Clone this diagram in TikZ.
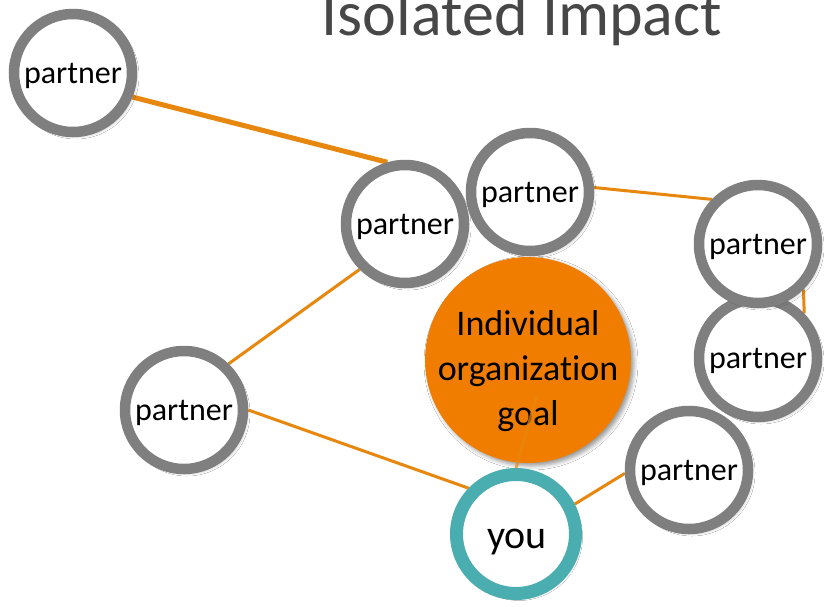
\documentclass[tikz,border=0pt]{standalone}
\usepackage{fontspec}
\setmainfont{Carlito}[Ligatures={NoCommon,NoRequired,NoContextual}]
\usetikzlibrary{shadows.blur}
\definecolor{ringgray}{HTML}{7F7F7F}
\definecolor{goalorange}{HTML}{F07D00}
\definecolor{linkorange}{HTML}{E8870E}
\definecolor{youteal}{HTML}{4AADAF}
\definecolor{titlegray}{HTML}{474747}
\pgfdeclarelayer{bg}
\pgfsetlayers{bg,main}
\begin{document}
\begin{tikzpicture}[x=1pt,y=-1pt,
  softshadow/.style={blur shadow={shadow xshift=3pt,shadow yshift=-3pt,shadow blur radius=4pt,shadow opacity=40}},
  partner/.style={circle,draw=ringgray,line width=10.5pt,fill=white,minimum size=118pt,inner sep=0pt,
    text depth=0pt,font=\fontsize{32}{36}\selectfont,softshadow},
  youbox/.style={circle,draw=youteal,line width=13pt,fill=white,minimum size=119pt,inner sep=0pt,softshadow},
  youtext/.style={font=\fontsize{40}{44}\selectfont,inner sep=0pt},
  goalbox/.style={circle,fill=goalorange,minimum size=206pt,inner sep=0pt,softshadow},
  goaltext/.style={align=center,font=\fontsize{36}{45}\selectfont,inner sep=0pt},
  link/.style={draw=linkorange,line width=3pt},
  thicklink/.style={draw=linkorange,line width=5pt}]
\useasboundingbox (0,0) rectangle (824,606);

\node[anchor=base,text=titlegray,font=\fontsize{64}{70}\selectfont,inner sep=0pt] (title) at (522,35) {Isolated Impact};

\node[partner] (p1) at (73,73) {partner};
\node[partner] (p2) at (405,224) {partner};
\node[partner] (p3) at (530,192) {partner};
\node[partner] (p7) at (184,410) {partner};
\node[goalbox] (goal) at (528,360) {};
\node[goaltext] (goallabel) at (528,371) {Individual\\organization\\goal};
\node[partner] (p5) at (758,358) {partner};
\node[partner] (p4) at (758,244) {partner};
\node[partner] (p6) at (689,470) {partner};
\node[youbox] (you) at (516,534) {};
\node[youtext] (youlabel) at (517,542) {you};

\begin{pgfonlayer}{bg}
\fill[white] (0,0) rectangle (824,606);
\draw[thicklink] (p1.-22) -- (p2.106);
\draw[link] (p3.4) -- (p4.136);
\draw[link] (p4.-45) -- (p5.44);
\draw[link] (p2.-135) -- (p7.46);
\draw[link] (p7.0) -- (you.136);
\draw[link] (you.27) -- (p6.183);
\end{pgfonlayer}

\coordinate (gl) at (537,395);
\draw[link,opacity=0.7] (gl) -- (you.90);
\end{tikzpicture}
\end{document}
